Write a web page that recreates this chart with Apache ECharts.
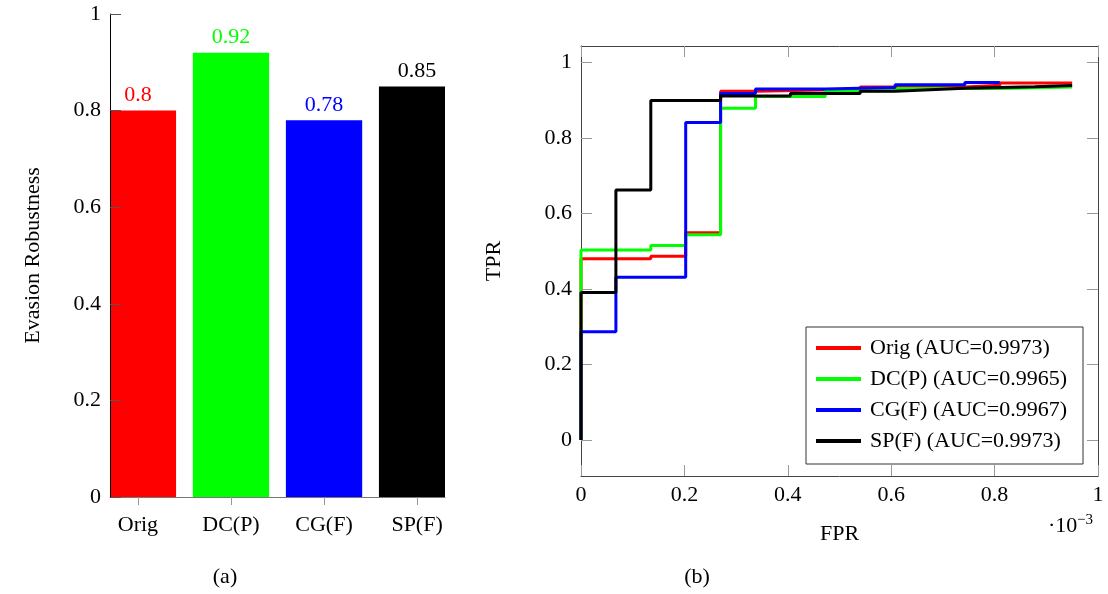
<!DOCTYPE html>
<html>
<head>
<meta charset="utf-8">
<script src="https://cdn.jsdelivr.net/npm/echarts@6/dist/echarts.min.js"></script>
<style>
html,body{margin:0;padding:0;background:#fff;}
#chart{width:1108px;height:594px;}
</style>
</head>
<body>
<div id="chart"></div>
<script>
// ---- Data: (a) bar chart ----
const categories = ['Orig', 'DC(P)', 'CG(F)', 'SP(F)'];
const robustness = [0.8, 0.92, 0.78, 0.85];

// ---- Data: (b) ROC step curves (FPR in units of 1e-3) ----
const rocNames = ['Orig (AUC=0.9973)', 'DC(P) (AUC=0.9965)', 'CG(F) (AUC=0.9967)', 'SP(F) (AUC=0.9973)'];
const fprOrig = [0, 0, 0.135, 0.2025, 0.27, 0.3375, 0.54, 0.7425, 0.81, 0.95];
const tprOrig = [0, 0.48, 0.487, 0.549, 0.924, 0.929, 0.935, 0.940, 0.946, 0.946];
const fprDC = [0, 0, 0.135, 0.2025, 0.27, 0.3375, 0.4725, 0.6075, 0.81, 0.95];
const tprDC = [0, 0.503, 0.515, 0.544, 0.879, 0.910, 0.925, 0.931, 0.935, 0.935];
const fprCG = [0, 0, 0.0675, 0.2025, 0.27, 0.3375, 0.4725, 0.6075, 0.7425, 0.81];
const tprCG = [0, 0.287, 0.431, 0.841, 0.918, 0.930, 0.934, 0.941, 0.947, 0.947];
const fprSP = [0, 0, 0.0675, 0.135, 0.27, 0.405, 0.54, 0.6075, 0.675, 0.7425, 0.8775, 0.95];
const tprSP = [0, 0.391, 0.662, 0.899, 0.911, 0.918, 0.924, 0.928, 0.932, 0.936, 0.939, 0.939];
const rocTicksY = [0, 0.2, 0.4, 0.6, 0.8, 1];

// ---- Styles ----
const FONT = 'Liberation Serif';
const FS = 22;
const colors = ['#ff0000', '#00ff00', '#0000ff', '#000000'];
const BAR_HALF = 0.41; // half bar width in category units

const zip = (xs, ys) => xs.map((x, i) => [x, ys[i]]);
const rocX = [fprOrig, fprDC, fprCG, fprSP];
const rocY = [tprOrig, tprDC, tprCG, tprSP];
const fmt1 = v => String(+(+v).toFixed(1));

const chart = echarts.init(document.getElementById('chart'), null, {renderer: 'canvas'});

const lineSeries = rocNames.map((name, i) => ({
  name: name,
  type: 'line',
  xAxisIndex: 1,
  yAxisIndex: 1,
  step: 'end',
  showSymbol: false,
  symbol: 'none',
  data: zip(rocX[i], rocY[i]),
  itemStyle: {color: colors[i]},
  lineStyle: {color: colors[i], width: 3},
  z: 3 + i
}));

const barSeries = {
  type: 'custom',
  xAxisIndex: 0, yAxisIndex: 0,
  data: robustness.map((v, i) => [i, v]),
  encode: {x: 0, y: 1},
  z: 2,
  renderItem: function (params, api) {
    const x = api.value(0), v = api.value(1);
    const p0 = api.coord([x - BAR_HALF, v]);
    const p1 = api.coord([x + BAR_HALF, 0]);
    const cs = params.coordSys;
    const rect = echarts.graphic.clipRectByRect(
      {x: p0[0], y: p0[1], width: p1[0] - p0[0], height: p1[1] - p0[1]},
      {x: cs.x, y: cs.y, width: cs.width, height: cs.height}
    );
    const top = api.coord([x, v]);
    const c = colors[params.dataIndex];
    return {
      type: 'group',
      children: [
        {type: 'rect', shape: rect, style: {fill: c}},
        {type: 'text', x: top[0], y: top[1] - 4, style: {text: String(v), fill: c, font: FS + 'px "' + FONT + '"', textAlign: 'center', textVerticalAlign: 'bottom'}}
      ]
    };
  }
};

const option = {
  animation: false,
  textStyle: {fontFamily: FONT},
  grid: [
    {left: 110, top: 14, width: 335, height: 483},
    {left: 581, top: 46, width: 517, height: 430}
  ],
  xAxis: [
    {
      type: 'value', gridIndex: 0, min: -0.3, max: 3.3,
      axisLine: {show: true, onZero: false, lineStyle: {color: '#777', width: 1}},
      axisTick: {show: true, inside: false, length: 8, lineStyle: {color: '#999'}, customValues: [0, 1, 2, 3]},
      axisLabel: {show: true, customValues: [0, 1, 2, 3], formatter: v => categories[Math.round(v)], fontFamily: FONT, fontSize: FS, color: '#000', margin: 17},
      splitLine: {show: false},
      z: 10
    },
    {
      type: 'value', gridIndex: 1, min: 0, max: 1, interval: 0.2,
      name: 'FPR', nameLocation: 'middle', nameGap: 47,
      nameTextStyle: {fontFamily: FONT, fontSize: FS, color: '#000'},
      axisLine: {show: true, onZero: false, lineStyle: {color: '#444', width: 1}},
      axisTick: {show: true, inside: true, length: 11, lineStyle: {color: '#999'}},
      axisLabel: {fontFamily: FONT, fontSize: FS, color: '#000', margin: 8, formatter: fmt1},
      splitLine: {show: false}
    },
    {
      type: 'value', gridIndex: 1, min: 0, max: 1, interval: 0.2, position: 'top',
      axisLine: {show: true, onZero: false, lineStyle: {color: '#444', width: 1}},
      axisTick: {show: true, inside: true, length: 11, lineStyle: {color: '#999'}},
      axisLabel: {show: false},
      splitLine: {show: false}
    }
  ],
  yAxis: [
    {
      type: 'value', gridIndex: 0, min: 0, max: 1, interval: 0.2,
      name: 'Evasion Robustness', nameLocation: 'middle', nameGap: 66,
      nameTextStyle: {fontFamily: FONT, fontSize: FS, color: '#000'},
      axisLine: {show: true, onZero: false, lineStyle: {color: '#000', width: 1}},
      axisTick: {show: true, inside: true, length: 11, lineStyle: {color: '#555'}},
      axisLabel: {fontFamily: FONT, fontSize: FS, color: '#000', margin: 9, formatter: fmt1},
      splitLine: {show: false},
      z: 10
    },
    {
      type: 'value', gridIndex: 1, min: -0.0954, max: 1.0437,
      name: 'TPR', nameLocation: 'middle', nameGap: 76,
      nameTextStyle: {fontFamily: FONT, fontSize: FS, color: '#000'},
      axisLine: {show: true, onZero: false, lineStyle: {color: '#444', width: 1}},
      axisTick: {show: true, inside: true, length: 11, lineStyle: {color: '#999'}, customValues: rocTicksY},
      axisLabel: {fontFamily: FONT, fontSize: FS, color: '#000', margin: 9, customValues: rocTicksY, formatter: fmt1},
      splitLine: {show: false}
    },
    {
      type: 'value', gridIndex: 1, min: -0.0954, max: 1.0437, position: 'right',
      axisLine: {show: true, onZero: false, lineStyle: {color: '#444', width: 1}},
      axisTick: {show: true, inside: true, length: 11, lineStyle: {color: '#999'}, customValues: rocTicksY},
      axisLabel: {show: false, customValues: rocTicksY},
      splitLine: {show: false}
    }
  ],
  legend: {
    data: rocNames,
    orient: 'vertical',
    left: 816, top: 337,
    icon: 'rect',
    itemWidth: 45, itemHeight: 4,
    itemGap: 9,
    padding: 0,
    textStyle: {fontFamily: FONT, fontSize: FS, color: '#000', lineHeight: 22, padding: [0, 0, 0, 4]},
    z: 20
  },
  graphic: [
    {type: 'rect', shape: {x: 806, y: 327, width: 277, height: 137}, style: {fill: '#fff', stroke: '#333', lineWidth: 1}, z: 15},
    {type: 'text', x: 225, y: 577, style: {text: '(a)', font: FS + 'px "' + FONT + '"', fill: '#000', textAlign: 'center', textVerticalAlign: 'middle'}},
    {type: 'text', x: 697, y: 577, style: {text: '(b)', font: FS + 'px "' + FONT + '"', fill: '#000', textAlign: 'center', textVerticalAlign: 'middle'}},
    {type: 'text', x: 1048, y: 526, style: {text: '·10', font: FS + 'px "' + FONT + '"', fill: '#000', textAlign: 'left', textVerticalAlign: 'middle'}},
    {type: 'text', x: 1077, y: 520, style: {text: '−3', font: '15px "' + FONT + '"', fill: '#000', textAlign: 'left', textVerticalAlign: 'middle'}}
  ],
  series: [barSeries].concat(lineSeries)
};

chart.setOption(option);
</script>
</body>
</html>
